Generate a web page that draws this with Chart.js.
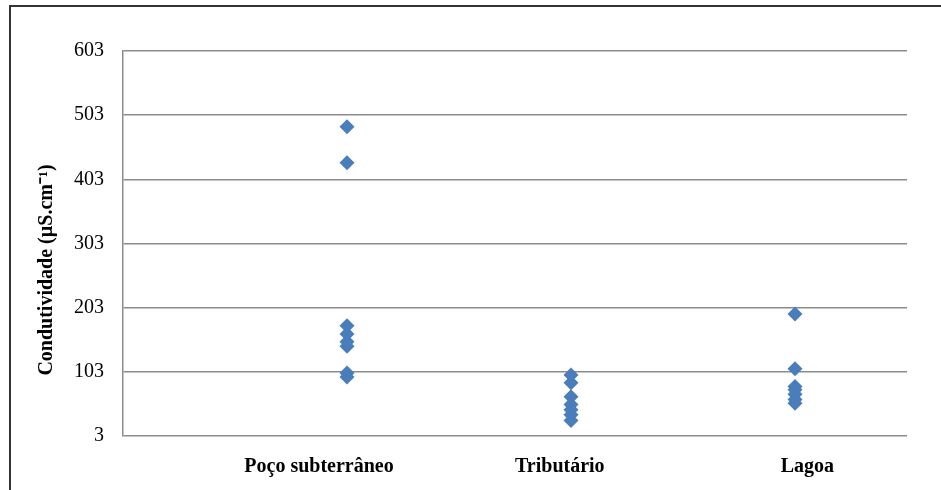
<!DOCTYPE html>
<html>
<head>
<meta charset="utf-8">
<script src="https://cdn.jsdelivr.net/npm/chart.js@4"></script>
<style>
  html, body { margin: 0; padding: 0; background: #fff; }
  #wrap { position: relative; width: 941px; height: 490px; overflow: hidden; }
  #frame { position: absolute; left: 9px; top: 5px; width: 960px; height: 520px;
           border-top: 2px solid #333; border-left: 2px solid #333; box-sizing: border-box; }
  canvas { position: absolute; left: 0; top: 0; }
</style>
</head>
<body>
<div id="wrap">
  <div id="frame"></div>
  <canvas id="chart" width="941" height="490"></canvas>
</div>
<script>
// Categorias e valores de condutividade (µS.cm-1)
const categories = ['Poço subterrâneo', 'Tributário', 'Lagoa'];
const pocoValues = [485, 429, 175, 162, 150, 143, 101, 95];
const tributarioValues = [98, 86, 64, 52, 44, 36, 27];
const lagoaValues = [193, 108, 80, 75, 68, 60, 54];
const yTicks = [3, 103, 203, 303, 403, 503, 603];

const FONT = "'Liberation Serif', 'Times New Roman', serif";
const POINT_COLOR = '#4a7ebb';
const GRID_COLOR = '#8c8c8c';

const seriesByCategory = [pocoValues, tributarioValues, lagoaValues];
const points = [];
seriesByCategory.forEach((vals, i) => {
    vals.forEach(v => points.push({ x: i + 1, y: v }));
});

// rótulos das categorias no Excel ficaram levemente deslocados dos pontos
const labelAt = [0.875, 1.95, 3.055];

// título do eixo Y desenhado à mão (no original não está centrado no eixo)
const yTitlePlugin = {
    id: 'yTitle',
    afterDraw(chart) {
        const ctx = chart.ctx;
        ctx.save();
        ctx.translate(47, 270);
        ctx.rotate(-Math.PI / 2);
        ctx.font = `bold 20px ${FONT}`;
        ctx.fillStyle = '#000';
        ctx.textAlign = 'center';
        ctx.textBaseline = 'middle';
        ctx.fillText('Condutividade (µS.cm⁻¹)', 0, 0);
        ctx.restore();
    }
};

new Chart(document.getElementById('chart'), {
    type: 'scatter',
    data: {
        datasets: [{
            data: points,
            showLine: false,
            pointStyle: 'rectRot',
            pointRadius: 7.5,
            pointHoverRadius: 7.5,
            pointBackgroundColor: POINT_COLOR,
            pointBorderColor: POINT_COLOR,
            pointBorderWidth: 0
        }]
    },
    options: {
        responsive: false,
        animation: false,
        layout: { padding: { top: 51, right: 34, bottom: 0, left: 0 } },
        plugins: {
            legend: { display: false },
            tooltip: { enabled: false }
        },
        scales: {
            x: {
                type: 'linear',
                min: 0,
                max: 3.5,
                afterBuildTicks: (scale) => {
                    scale.ticks = labelAt.map(v => ({ value: v }));
                },
                afterFit: (scale) => { scale.height = 54; },
                grid: { display: false, drawTicks: false },
                border: { display: false },
                ticks: {
                    autoSkip: false,
                    maxRotation: 0,
                    padding: 19,
                    color: '#000',
                    font: { family: FONT, size: 20, weight: 'bold' },
                    callback: (value, index) => categories[index]
                }
            },
            y: {
                min: 3,
                max: 603,
                afterBuildTicks: (scale) => {
                    scale.ticks = yTicks.map(v => ({ value: v }));
                },
                afterFit: (scale) => { scale.width = 123; },
                grid: { color: GRID_COLOR, lineWidth: 1.5, drawTicks: false },
                border: { display: true, color: GRID_COLOR, width: 1.5 },
                ticks: {
                    padding: 19,
                    color: '#000',
                    font: { family: FONT, size: 20 }
                }
            }
        }
    },
    plugins: [yTitlePlugin]
});
</script>
</body>
</html>
